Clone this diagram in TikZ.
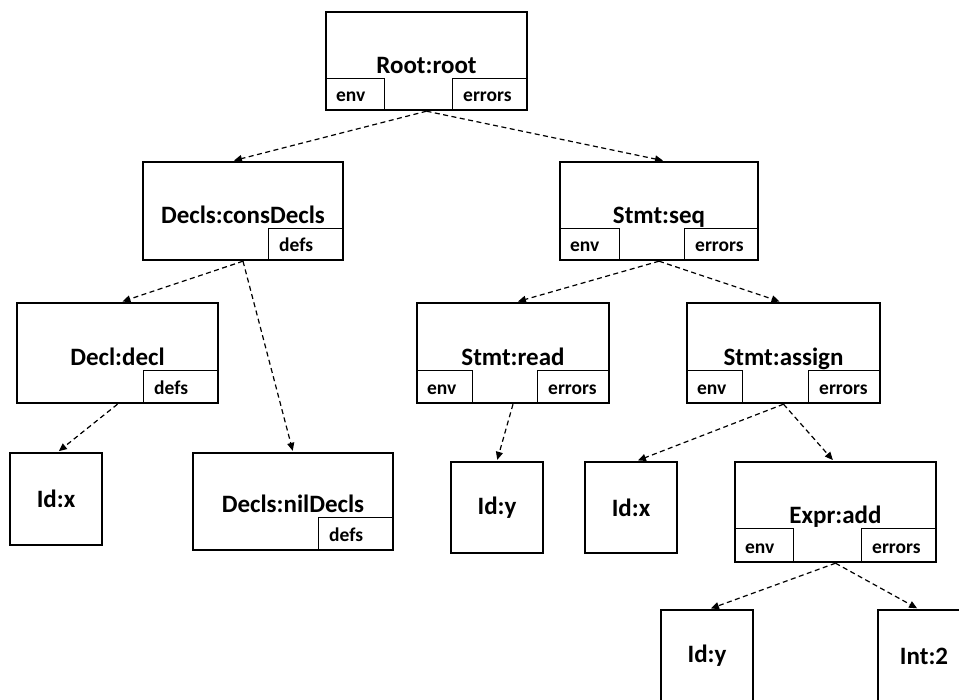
\documentclass[tikz,border=0pt]{standalone}
\usepackage{fontspec}
\setmainfont{Carlito}
\usetikzlibrary{arrows.meta}
\begin{document}
\begin{tikzpicture}[x=1pt,y=-1pt,
  box/.style={draw, line width=2.4pt, inner sep=0pt},
  subbox/.style={draw, line width=1.2pt, inner sep=0pt, minimum height=32pt},
  sublabel/.style={inner sep=0pt, anchor=base west, font=\fontsize{19.5}{22}\selectfont\bfseries},
  title/.style={inner sep=0pt, anchor=base, font=\fontsize{25}{30}\selectfont\bfseries},
  idlabel/.style={inner sep=0pt, font=\fontsize{25}{30}\selectfont\bfseries},
  link/.style={line width=1.2pt, dash pattern=on 5pt off 3.5pt,
    -{Triangle[length=8pt,width=7pt]}, shorten >=1pt}]
\useasboundingbox (0,0) rectangle (959,700);
\clip (0,0) rectangle (959,700);

% attribute-carrying nodes (title row plus env / errors / defs slots)
\node[box, minimum width=201pt, minimum height=98pt] (root) at (426.5,61) {};
\node[subbox, minimum width=59pt, anchor=south west] (root-env) at (root.south west) {};
\node[subbox, minimum width=75pt, anchor=south east] (root-err) at (root.south east) {};
\node[sublabel] at ([xshift=11pt,yshift=10pt]root-env.south west) {env};
\node[sublabel] at ([xshift=11pt,yshift=10pt]root-err.south west) {errors};
\node[title] at ([yshift=38pt]root.south) {Root:root};

\node[box, minimum width=200pt, minimum height=98pt] (cons) at (243,211) {};
\node[subbox, minimum width=75pt, anchor=south east] (cons-defs) at (cons.south east) {};
\node[sublabel] at ([xshift=11pt,yshift=10pt]cons-defs.south west) {defs};
\node[title] at ([yshift=38pt]cons.south) {Decls:consDecls};

\node[box, minimum width=198pt, minimum height=98pt] (seq) at (659,211) {};
\node[subbox, minimum width=60pt, anchor=south west] (seq-env) at (seq.south west) {};
\node[subbox, minimum width=74pt, anchor=south east] (seq-err) at (seq.south east) {};
\node[sublabel] at ([xshift=11pt,yshift=10pt]seq-env.south west) {env};
\node[sublabel] at ([xshift=11pt,yshift=10pt]seq-err.south west) {errors};
\node[title] at ([yshift=38pt]seq.south) {Stmt:seq};

\node[box, minimum width=201pt, minimum height=100pt] (decl) at (117.5,353) {};
\node[subbox, minimum width=75pt, minimum height=33pt, anchor=south east] (decl-defs) at (decl.south east) {};
\node[sublabel] at ([xshift=11pt,yshift=10pt]decl-defs.south west) {defs};
\node[title] at ([yshift=39pt]decl.south) {Decl:decl};

\node[box, minimum width=192pt, minimum height=100pt] (read) at (513,353) {};
\node[subbox, minimum width=56pt, minimum height=33pt, anchor=south west] (read-env) at (read.south west) {};
\node[subbox, minimum width=72pt, minimum height=33pt, anchor=south east] (read-err) at (read.south east) {};
\node[sublabel] at ([xshift=11pt,yshift=10pt]read-env.south west) {env};
\node[sublabel] at ([xshift=11pt,yshift=10pt]read-err.south west) {errors};
\node[title] at ([yshift=39pt]read.south) {Stmt:read};

\node[box, minimum width=193pt, minimum height=100pt] (assign) at (783.5,353) {};
\node[subbox, minimum width=56pt, minimum height=33pt, anchor=south west] (assign-env) at (assign.south west) {};
\node[subbox, minimum width=72pt, minimum height=33pt, anchor=south east] (assign-err) at (assign.south east) {};
\node[sublabel] at ([xshift=11pt,yshift=10pt]assign-env.south west) {env};
\node[sublabel] at ([xshift=11pt,yshift=10pt]assign-err.south west) {errors};
\node[title] at ([yshift=39pt]assign.south) {Stmt:assign};

\node[box, minimum width=200pt, minimum height=97pt] (nil) at (293,501.5) {};
\node[subbox, minimum width=75pt, minimum height=33pt, anchor=south east] (nil-defs) at (nil.south east) {};
\node[sublabel] at ([xshift=11pt,yshift=10pt]nil-defs.south west) {defs};
\node[title] at ([yshift=39pt]nil.south) {Decls:nilDecls};

\node[box, minimum width=201pt, minimum height=100pt] (add) at (835.5,512) {};
\node[subbox, minimum width=59pt, minimum height=34pt, anchor=south west] (add-env) at (add.south west) {};
\node[subbox, minimum width=75pt, minimum height=34pt, anchor=south east] (add-err) at (add.south east) {};
\node[sublabel] at ([xshift=11pt,yshift=10pt]add-env.south west) {env};
\node[sublabel] at ([xshift=11pt,yshift=10pt]add-err.south west) {errors};
\node[title] at ([yshift=40pt]add.south) {Expr:add};

% leaf nodes
\node[box, minimum width=92pt, minimum height=92pt] (idx1) at (56,499) {};
\node[idlabel] at (idx1) {Id:x};
\node[box, minimum width=92pt, minimum height=91pt] (idy1) at (497,507.5) {};
\node[idlabel] at (idy1) {Id:y};
\node[box, minimum width=92pt, minimum height=91pt] (idx2) at (631,507.5) {};
\node[idlabel] at (idx2) {Id:x};
\node[box, minimum width=92pt, minimum height=92pt] (idy2) at (707,656) {};
\node[idlabel] at (idy2) {Id:y};
\node[box, minimum width=92pt, minimum height=92pt] (int2) at (924,656) {};
\node[idlabel] at (int2) {Int:2};

% parent-to-child links
\draw[link] (root.south) -- ([xshift=-10pt]cons.north);
\draw[link] (root.south) -- ([xshift=5pt]seq.north);
\draw[link] (cons.south) -- ([xshift=4pt]decl.north);
\draw[link] (cons.south) -- (nil.north);
\draw[link] (seq.south) -- ([xshift=4pt]read.north);
\draw[link] (seq.south) -- ([xshift=-3pt]assign.north);
\draw[link] (decl.south) -- ([xshift=2pt]idx1.north);
\draw[link] (read.south) -- (idy1.north);
\draw[link] (assign.south) -- ([xshift=6pt]idx2.north);
\draw[link] (assign.south) -- ([xshift=-2pt]add.north);
\draw[link] (add.south) -- ([xshift=3pt]idy2.north);
\draw[link] (add.south) -- ([xshift=-6pt]int2.north);
\end{tikzpicture}
\end{document}
